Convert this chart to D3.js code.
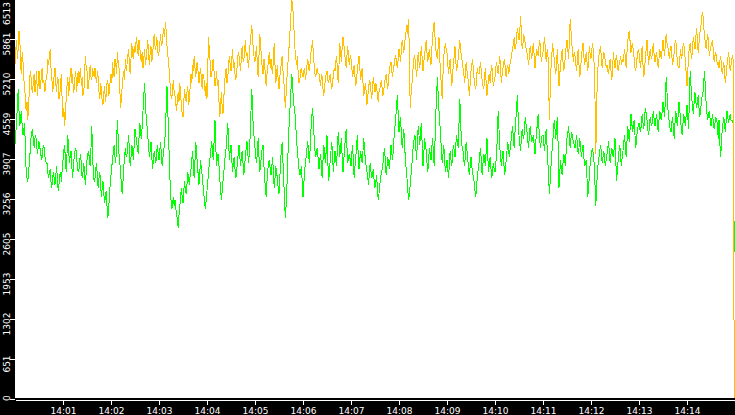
<!DOCTYPE html>
<html>
<head>
<meta charset="utf-8">
<script src="https://cdn.jsdelivr.net/npm/d3@7/dist/d3.min.js"></script>
<style>
  html, body { margin: 0; padding: 0; background: #000; }
  svg { display: block; }
</style>
</head>
<body>
<svg id="chart" width="735" height="415"></svg>
<script>
// ---- DATA ----
const startTime = "14:00:00";      // first sample
const sampleSeconds = 1;           // one sample per second
const yellowValues = [
  5450,5700,5850,5550,5700,6000,5900,5450,5300,5650,5500,5200,5150,4850,4700,4850,4550,4800,5050,5350,
  5250,5050,5000,5200,5300,5000,5150,5350,4950,5150,5350,5050,5100,5300,5400,5150,5200,5000,5050,5250,
  5300,5550,5450,5600,5700,5400,5250,5000,5100,5300,5400,5150,5000,5250,5200,4900,4950,5150,5300,4850,
  4600,4750,4450,4650,4900,5100,5250,4950,5100,5300,5400,5150,5300,5000,5050,5250,5350,5000,5200,5350,
  5150,5300,5400,5100,5250,4950,5000,5300,5600,5400,5350,5050,5100,5300,5450,5250,5200,5400,5300,5250,
  5400,5250,5150,5350,5250,5000,4900,5150,5050,4850,4800,5000,5100,4850,4950,5150,5200,4950,5000,5200,
  5300,5150,5500,5300,5250,5550,5450,5300,5650,5500,5400,5050,4750,4900,5100,5250,5350,5200,5550,5350,
  5450,5600,5700,5450,5300,5550,5800,5600,5550,5750,5650,5800,5900,5700,5600,5850,5750,5550,5500,5650,
  5400,5550,5700,5450,5550,5700,5850,5600,5450,5650,5750,5500,5600,5800,5950,5750,5700,5900,5800,5600,
  5650,5800,5950,5750,5800,5950,6050,5900,6150,6000,5750,5600,5500,5300,5100,4950,4900,5050,5200,5000,
  4950,4800,4700,4900,5000,4850,5150,4950,4800,4650,4600,4850,5050,4900,4850,5000,5100,4800,4900,5100,
  5300,5150,5450,5350,5600,5400,5250,5450,5500,5300,5150,5300,5400,5200,5050,5300,5250,5100,4950,5150,
  4900,5450,5900,5650,5500,5250,5300,5500,5550,5300,5100,5200,5350,5100,5200,4850,4600,4800,5000,4750,
  4650,4900,5150,5300,5400,5150,5250,5450,5600,5450,5350,5550,5700,5400,5500,5300,5200,5350,5450,5650,
  5600,5450,5350,5600,5750,5550,5500,5700,5850,5600,5650,5500,5400,5650,5800,5950,6100,5850,5700,5550,
  5500,5650,5750,5400,5250,5600,5950,5750,5600,5400,5300,5550,5500,5250,5100,5300,5400,5550,5650,5400,
  5550,5400,5300,5550,5800,5450,5150,5300,5450,5200,5050,5250,5350,5500,5600,5350,5200,4950,4750,5000,
  5250,5450,5600,5850,6050,6300,6513,6400,6250,5950,5700,5550,5450,5600,5300,5150,5200,5350,5400,5300,
  5250,5350,5400,5200,5300,5450,5550,5400,5350,5500,5650,5750,5850,5600,5450,5300,5250,5350,5400,5300,
  5300,5200,5100,5300,5250,5050,4950,5100,5200,5300,5350,5200,5150,5250,5300,5150,5050,5200,5250,5400,
  5350,5500,5600,5350,5150,5450,5800,5650,5500,5750,5900,5800,5650,5500,5400,5600,5750,5550,5450,5600,
  5550,5400,5250,5350,5450,5250,5100,5250,5350,5500,5600,5400,5200,5300,5400,5150,4950,5050,5150,5000,
  4800,4950,5050,5200,5150,5000,4900,5100,5250,5100,5000,5150,5100,4950,4850,5000,5050,5150,5200,5050,
  4950,5050,5150,5250,5300,5150,5050,5250,5350,5450,5500,5350,5250,5400,5450,5550,5600,5450,5400,5550,
  5700,5600,5500,5700,5850,5750,5650,5800,5900,6000,6100,5950,6200,5600,4750,4950,5100,5300,5450,5600,
  5550,5400,5250,5450,5650,5500,5400,5600,5750,5550,5350,5500,5600,5750,5850,5650,5500,5600,5700,5550,
  5450,5700,5900,6050,6150,5900,5700,5600,5550,5750,5900,5550,5300,5100,4900,5300,5600,5700,5800,5700,
  5650,5450,5300,5450,5550,5300,5100,5300,5450,5600,5750,5500,5350,5450,5550,5700,5850,5700,5600,5500,
  5400,5300,5150,5300,5500,5350,5250,5100,4950,5150,5350,5450,5550,5350,5200,5100,5050,5250,5400,5300,
  5300,5400,5500,5300,5200,5100,5050,5250,5400,5150,4950,5100,5250,5300,5150,5350,5450,5250,5100,5200,
  5250,5400,5500,5350,5300,5450,5600,5350,5150,5300,5400,5500,5550,5350,5250,5400,5450,5300,5350,5500,
  5550,5650,5700,5800,5900,5700,5750,5900,6050,5950,5850,6000,6250,5950,5700,5800,5950,5850,5800,5700,
  5650,5550,5450,5600,5750,5650,5550,5700,5800,5600,5400,5550,5700,5650,5600,5750,5850,5650,5500,5600,
  5650,5800,5900,5700,5500,5650,5700,5200,4550,5000,5400,5600,5800,5650,5550,5400,5300,5500,5700,5400,
  5100,5300,5450,5600,5700,5500,5350,5450,5600,5750,5850,5700,5550,5850,6200,6000,5800,5650,5500,5650,
  5600,5450,5350,5550,5700,5450,5250,5400,5550,5700,5800,5600,5450,5550,5650,5500,5350,5550,5750,5600,
  5550,5700,5800,5650,5450,4900,4000,4700,5300,5450,5600,5700,5750,5550,5400,5550,5650,5600,5500,5400,
  5450,5350,5300,5450,5550,5350,5200,5400,5650,5500,5400,5550,5600,5450,5350,5450,5500,5600,5450,5550,
  5500,5600,5700,5550,5400,5650,5850,5950,6000,5800,5650,5750,5800,5650,5550,5400,5350,5500,5600,5700,
  5650,5500,5400,5600,5750,5450,5250,5400,5550,5700,5850,5650,5450,5600,5700,5600,5550,5700,5800,5600,
  5500,5600,5650,5500,5400,5550,5700,5600,5550,5700,5850,5700,5600,5800,5950,5800,5750,5650,5550,5700,
  5750,5600,5450,5550,5650,5800,5850,5650,5500,5400,5400,5550,5700,5550,5600,5750,5800,5650,5500,5300,
  5100,5350,5600,5750,5800,5650,5550,5750,5900,5800,5700,5900,6050,5850,5650,5800,5950,6050,6150,6300,
  6250,6050,5900,5800,5700,5850,5950,5750,5600,5700,5750,5800,5850,5650,5500,5600,5650,5550,5450,5500,
  5400,5500,5600,5450,5300,5400,5500,5300,5150,5300,5450,5550,5650,5500,5350,5450,5550,5600,5500,0
];
const greenValues = [
  4150,4350,4500,4800,5050,4700,4450,4600,4700,4450,4300,4400,4500,4100,3700,3600,3550,3700,3850,4050,
  4250,4350,4400,4200,4100,4250,4300,4150,4000,4100,4200,4100,4050,3900,3950,4100,4150,4000,3900,3850,
  3850,3700,3600,3700,3750,3550,3450,3600,3700,3600,3500,3650,3800,3600,3400,3500,3650,3700,3550,3750,
  3900,4050,4150,3900,3700,4000,4300,4100,3850,3950,4050,3800,3600,3800,3950,4050,4100,3950,3800,3700,
  3750,3900,4000,3800,3600,3700,3850,3650,3500,3700,3900,4000,4050,3900,3800,4100,4450,4000,3650,3550,
  3600,3750,3850,3600,3450,3600,3700,3500,3300,3450,3550,3350,3200,3300,3400,3150,2950,3100,3300,3500,
  3650,3800,3900,4050,4150,3950,3850,4200,4550,4250,4000,3850,3700,3500,3350,3550,3800,3950,4100,3950,
  4000,4150,4300,4050,3800,3950,4150,4050,3900,4150,4400,4300,4200,4100,4000,4250,4500,4350,4250,4450,
  4700,4950,5150,4850,4600,4450,4300,4100,3950,4050,4200,3950,3750,3900,4050,3950,3850,4000,4150,4000,
  3900,4050,4200,3950,3800,3950,4050,4200,4350,4750,5100,4700,4300,3850,3500,3250,3100,3200,3300,3150,
  3250,3100,3050,2900,2800,3000,3150,3300,3450,3300,3200,3400,3550,3400,3350,3500,3700,3600,3500,3650,
  3750,3900,4050,3800,3600,3900,4200,4000,3850,3650,3500,3700,3900,3750,3650,3500,3350,3200,3100,3250,
  3400,3550,3700,3850,3950,4100,4200,4000,3900,4250,4550,4100,3800,3950,4000,3800,3600,3400,3250,3400,
  3550,3700,3850,4000,4100,4300,4500,4200,3900,4050,4150,3900,3700,3850,3950,3750,3600,3700,3850,4000,
  4150,3950,3800,3950,4050,3850,3650,3800,3950,4100,4200,4000,3850,4050,4300,4700,5050,4700,4400,4250,
  4100,3950,3850,4050,4250,3950,3700,3850,3950,4100,4150,3850,3600,3450,3300,3550,3750,3850,3900,3750,
  3650,3800,3950,3700,3450,3600,3800,3700,3600,3450,3350,3600,3900,4050,4200,3850,3550,3200,2950,3200,
  3500,3900,4300,4550,4800,5050,5300,5100,4900,4750,4650,4450,4200,4050,3900,3750,3650,3700,3800,3550,
  3300,3500,3700,3850,3950,4100,4200,4000,3850,4100,4400,4600,4750,4500,4250,4050,3950,4050,4100,3900,
  3750,3900,4000,3800,3600,3900,4150,4000,3850,4050,4300,3900,3550,3700,3900,4050,4200,3950,3700,3900,
  4050,3900,3800,4100,4350,4150,3950,4100,4250,3950,3700,3900,4100,4250,4400,4100,3850,3950,4000,3900,
  3800,4000,4150,3850,3600,3800,3950,4150,4300,4000,3750,3900,4050,3950,3850,4050,4250,4050,3900,3800,
  3700,3600,3500,3700,3850,3700,3600,3700,3750,3550,3450,3550,3650,3450,3250,3350,3500,3600,3700,3750,
  3850,4000,4100,3850,3650,3800,3950,3850,3750,3950,4150,4000,3900,4100,4300,4450,4600,4800,4950,4650,
  4350,4500,4600,4300,4100,4250,4400,4150,3900,3750,3600,3400,3250,3350,3500,3650,3800,4000,4150,4250,
  4300,4100,3900,4200,4450,4300,4150,4350,4500,4150,3800,4000,4250,4150,4050,3850,3700,3900,4100,4000,
  3900,4100,4250,4000,3800,4200,4650,4950,5250,4950,4700,4500,4300,4050,3850,4000,4150,3900,3700,3800,
  3900,3750,3600,3850,4050,3900,3800,4000,4150,4050,3950,4150,4300,4200,4100,4500,4900,4550,4200,4100,
  4050,3900,3800,4000,4200,4050,3900,3750,3650,3800,3950,3800,3700,3600,3550,3400,3300,3450,3650,3750,
  3850,4000,4100,3850,3650,3850,4000,3900,3800,4050,4250,3950,3700,3850,3950,3750,3600,3750,3850,3750,
  3700,3850,3950,4350,4700,4400,4100,3950,3800,3950,4050,3850,3650,3750,3900,4050,4200,4050,3950,4100,
  4200,4350,4450,4250,4100,4350,4550,4750,4950,4600,4300,4150,4050,4250,4400,4300,4250,4450,4600,4450,
  4350,4200,4100,4300,4450,4300,4200,4250,4300,4150,4000,4200,4350,4500,4650,4400,4200,4100,4250,4300,
  4300,4150,4050,4250,4400,4150,3900,3600,3350,3550,3800,4000,4150,4350,4550,4400,4250,4450,4600,4100,
  3450,3700,3900,3750,3650,3850,4000,3900,3800,4050,4250,4350,4450,4250,4100,4250,4350,4250,4200,4150,
  4100,4200,4300,4150,4000,4100,4250,4100,3950,4050,4150,3950,3800,3850,3900,3600,3300,3450,3650,3850,
  3950,4050,4100,3950,3850,3500,3150,3450,3700,3850,3950,4050,4150,4000,3850,3950,4050,3900,3800,3900,
  4000,4100,4200,4000,3850,4000,4100,4000,3950,4100,4250,3900,3550,3750,3900,4050,4150,3950,3800,3950,
  4050,4200,4300,4100,3950,4200,4450,4300,4200,4450,4650,4500,4350,4450,4550,4300,4100,4250,4400,4450,
  4500,4400,4350,4500,4650,4500,4400,4600,4750,4650,4550,4400,4300,4450,4600,4500,4450,4600,4700,4550,
  4450,4550,4650,4500,4350,4550,4700,4600,4550,4700,4850,4700,4600,4900,5250,5000,4750,4600,4500,4400,
  4350,4500,4600,4400,4250,4500,4700,4550,4450,4650,4850,4700,4550,4400,4300,4500,4650,4550,4450,4650,
  4800,4600,4400,4900,5350,5100,4900,4750,4650,4850,5000,4850,4750,4850,4950,4750,4600,4700,4850,4950,
  5000,5200,5350,5050,4800,4650,4550,4650,4700,4550,4450,4550,4650,4500,4400,4500,4600,4550,4500,4250,
  4550,4200,3950,4150,4400,4500,4600,4450,4350,4550,4700,4600,4500,4600,4650,4550,4550,4500,4600,2400
];
const yTickValues = [0, 651.3, 1302.6, 1953.9, 2605.2, 3256.5, 3907.8, 4559.1, 5210.4, 5861.7, 6513];
const yTickLabels = ["0","651","1302","1953","2605","3256","3907","4559","5210","5861","6513"];
const xTickLabels = ["14:01","14:02","14:03","14:04","14:05","14:06","14:07","14:08","14:09","14:10","14:11","14:12","14:13","14:14"];
const timeDomain = ["14:00:00", "14:15:00"];
const yDomain = [0, 6513];

// ---- BUILD ----
const W = 735, H = 415;
const plotLeft = 15, plotRight = 735, plotTop = 0, plotBottom = 398;
const parse = d3.timeParse("%H:%M:%S");
const t0 = parse(startTime);
const toRows = vals => vals.map((v, i) => ({ t: new Date(t0.getTime() + i * sampleSeconds * 1000), v }));
const yellow = toRows(yellowValues);
const green = toRows(greenValues);

const x = d3.scaleTime().domain(timeDomain.map(parse)).range([15, 735]);
const y = d3.scaleLinear().domain(yDomain).range([399.5, -0.5]);

const svg = d3.select("#chart");
svg.append("rect").attr("width", W).attr("height", H).attr("fill", "#000");
svg.append("rect")
  .attr("x", plotLeft).attr("y", plotTop)
  .attr("width", plotRight - plotLeft).attr("height", plotBottom - plotTop)
  .attr("fill", "#fff");

svg.append("defs").append("clipPath").attr("id", "clip")
  .append("rect").attr("x", plotLeft).attr("y", plotTop)
  .attr("width", plotRight - plotLeft).attr("height", plotBottom - plotTop);

const line = d3.line().x(d => x(d.t)).y(d => y(d.v));
const g = svg.append("g").attr("clip-path", "url(#clip)");
g.append("path").datum(green)
  .attr("d", line).attr("fill", "none").attr("stroke", "#00ff00")
  .attr("stroke-width", 1).attr("shape-rendering", "crispEdges");
g.append("path").datum(yellow)
  .attr("d", line).attr("fill", "none").attr("stroke", "#ffc000")
  .attr("stroke-width", 1).attr("shape-rendering", "crispEdges");

// bottom axis
const xTickTimes = xTickLabels.map(s => parse(s + ":00"));
const xAxis = d3.axisBottom(x).tickValues(xTickTimes)
  .tickFormat((d, i) => xTickLabels[i]).tickSize(5).tickSizeOuter(0).offset(0.5);
const gx = svg.append("g").attr("transform", "translate(0,399.5)").call(xAxis);
gx.attr("color", "#fff").attr("font-family", "DejaVu Sans, sans-serif").attr("font-size", 9);
gx.select(".domain").attr("stroke", "#fff").attr("shape-rendering", "crispEdges");
gx.selectAll(".tick line").attr("shape-rendering", "crispEdges");
gx.selectAll(".tick text").attr("y", 14).attr("dy", 0).attr("fill", "#fff");

// left axis
const yAxis = d3.axisLeft(y).tickValues(yTickValues)
  .tickFormat((d, i) => yTickLabels[i]).tickSize(5).tickSizeOuter(0).offset(0);
const gy = svg.append("g").attr("transform", "translate(15,0)").call(yAxis);
gy.attr("color", "#fff").attr("font-family", "DejaVu Sans, sans-serif").attr("font-size", 9);
gy.select(".domain").remove();
gy.selectAll(".tick line").attr("shape-rendering", "crispEdges");
gy.selectAll(".tick text").each(function(d, i) {
  const el = d3.select(this);
  el.attr("x", 0).attr("y", 0).attr("dy", 0).attr("text-anchor", "middle").attr("fill", "#fff");
  const len = this.getComputedTextLength();
  const ty = y(d);
  let cy = ty + 4.5;
  cy = Math.max(cy, 2 + len / 2);
  cy = Math.min(cy, 401 - len / 2);
  el.attr("transform", `translate(-5,${cy - ty}) rotate(-90)`);
});
</script>
</body>
</html>
